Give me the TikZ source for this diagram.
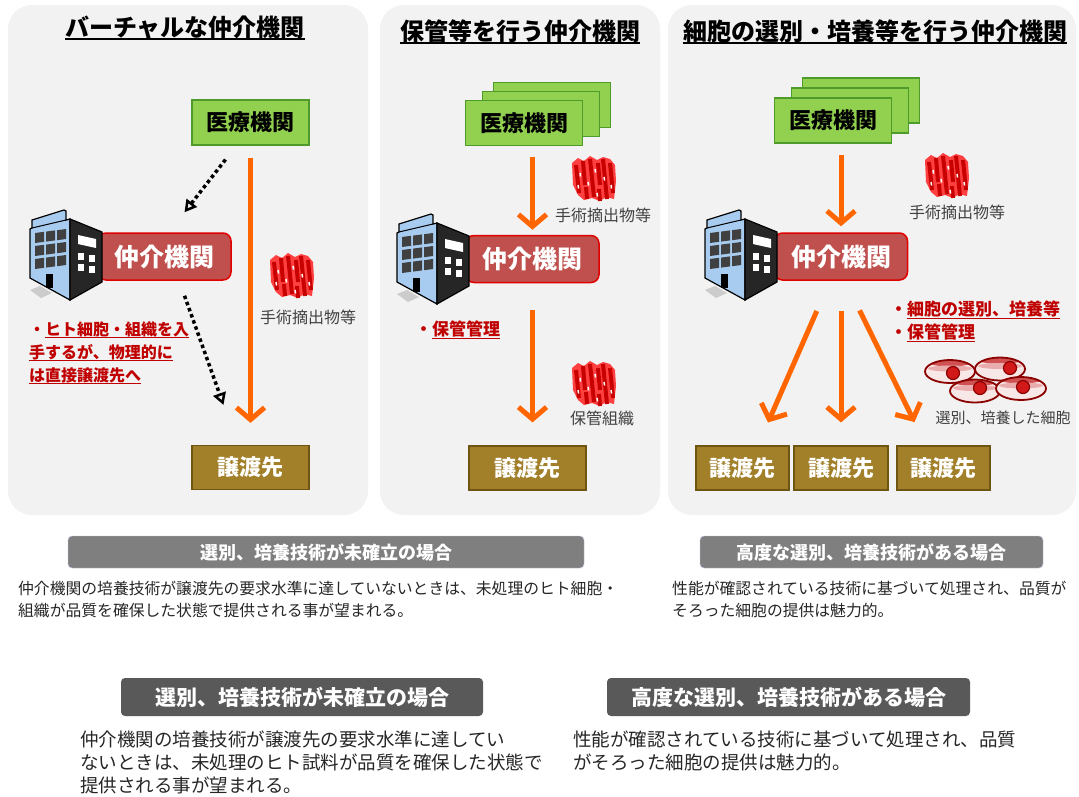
\documentclass[tikz,border=0pt]{standalone}
\usepackage{fontspec}
\setmainfont{Noto Sans CJK JP}
\usetikzlibrary{arrows.meta, shadows}

\definecolor{panelbg}{HTML}{F2F2F2}
\definecolor{medgreen}{HTML}{92D050}
\definecolor{medline}{HTML}{4E9A2A}
\definecolor{brokerred}{HTML}{C0504D}
\definecolor{brokerline}{HTML}{E00000}
\definecolor{recbrown}{HTML}{A2802A}
\definecolor{recline}{HTML}{6E5512}
\definecolor{floworange}{HTML}{FF6600}
\definecolor{notered}{HTML}{C00000}
\definecolor{labelgray}{HTML}{404040}
\definecolor{capgray}{HTML}{7F7F7F}
\definecolor{capline}{HTML}{C5C5E8}
\definecolor{capdark}{HTML}{595959}
\definecolor{glass}{HTML}{A8CCF0}
\definecolor{pane}{HTML}{404040}
\definecolor{sidedark}{HTML}{262626}
\definecolor{tissuedark}{HTML}{C80000}
\definecolor{tissuelight}{HTML}{FF4040}
\definecolor{cellred}{HTML}{C83232}
\definecolor{cellline}{HTML}{8B0000}

\newcommand{\fsz}[2]{\fontsize{#1}{#2}\selectfont}
% underline with its own thickness
\newcommand{\ulbar}[2][1pt]{\setbox0=\hbox{#2}\rlap{\rule[-0.16em]{\wd0}{#1}}\box0}

\begin{document}
\begin{tikzpicture}[x=1pt, y=-1pt,
    panel/.style={fill=panelbg, rounded corners=24pt},
    title/.style={inner sep=0, font=\fsz{24}{28}\bfseries},
    medbox/.style={draw=medline, fill=medgreen, line width=1.2pt, minimum width=117pt, minimum height=45pt, inner sep=0, font=\fsz{22}{24}\bfseries},
    medstack/.style 2 args={
      copy shadow={shadow xshift=28pt, shadow yshift=#2, fill=medgreen, draw=medline, line width=1.2pt},
      copy shadow={shadow xshift=17pt, shadow yshift=#1, fill=medgreen, draw=medline, line width=1.2pt}},
    broker/.style={draw=brokerline, fill=brokerred, line width=1.5pt, rounded corners=8pt, minimum width=133pt, minimum height=47pt, inner sep=0, text=white, font=\fsz{25}{28}\bfseries},
    recbox/.style={draw=recline, fill=recbrown, line width=1.2pt, minimum width=117pt, minimum height=44pt, inner sep=0, text=white, font=\fsz{22}{24}\bfseries},
    lab/.style={inner sep=0, text=labelgray, font=\fsz{16}{18}},
    note/.style={inner sep=0, text=notered, align=left, font=\fsz{16}{23}\bfseries},
    capbox/.style={fill=capgray, draw=capline, rounded corners=4pt, minimum height=32pt, inner sep=0, text=white, font=\fsz{18}{20}\bfseries},
    capboxdk/.style={fill=capdark, rounded corners=4pt, minimum height=38pt, inner sep=0, text=white, font=\fsz{21}{24}\bfseries},
    desc/.style={inner sep=0, align=left, text=black!85, font=\fsz{15.8}{22}},
    flow/.style={draw=floworange, line width=5pt, -{Straight Barb[length=12pt, width=28pt]}},
    hint/.style={draw=black, line width=3.5pt, dash pattern=on 3.5pt off 3pt, -{Triangle[open, length=12pt, width=13pt, line width=2.5pt]}},
    nucleus/.style={draw=cellline, line width=1.2pt, fill=red!80!black!90},
    office/.pic={
      \fill[gray!40] (2,82) -- (12,78) -- (24,85) -- (13,90) -- cycle;
      \draw[line width=1.2pt, fill=glass] (2,21) -- (4,20) -- (4,12) -- (36,2) -- (38,3) -- (38,12) -- (42,11) -- (42,92) -- (2,70) -- cycle;
      \draw[line width=1pt] (4,20) -- (38,12);
      \draw[line width=1.2pt, fill=sidedark] (42,11) -- (74,24) -- (74,74) -- (42,92) -- cycle;
      \foreach \col in {0,1,2}
        \foreach \row in {0,1,2}
          \fill[pane] ({7+11*\col},{25+13*\row-1.4*\col}) -- ++(9,-1.2) -- ++(0,10) -- ++(-9,1.2) -- cycle;
      \fill[black] (18,66) rectangle (25,80);
      \fill[white] (50,27) -- (68,31) -- (68,40) -- (50,36) -- cycle;
      \foreach \px/\py in {50/45, 61/47, 50/56, 61/58}
        \fill[white] (\px,\py) rectangle ++(6,7);
    },
    tissue/.pic={
      \fill[tissuelight] (2,8) -- (8,3) -- (14,6) -- (20,1) -- (27,5) -- (33,2) -- (40,4) -- (45,10) -- (46,26) -- (44,44) -- (36,42) -- (30,46) -- (22,43) -- (14,45) -- (8,40) -- (3,30) -- cycle;
      \foreach \ax/\ay/\bx/\by in {6/10/9/38, 13/6/15/30, 20/4/24/42, 28/8/30/30, 33/4/37/44, 40/8/43/38, 16/32/17/44, 29/34/30/46}
        \draw[tissuedark, line width=4pt] (\ax,\ay) -- (\bx,\by);
      \foreach \ax/\ay in {10/18, 25/14, 18/27, 34/22, 41/30, 27/38, 8/30}
        \draw[white, line width=1.5pt] (\ax,\ay) -- ++(0.6,3.5);
    }]

  %\draw[help lines, step=50] (0,0) grid (1079,796);
  \useasboundingbox (0,0) rectangle (1079,796);
  \fill[white] (0,0) rectangle (1079,796);

  % three panels
  \fill[panel] (8,5) rectangle (368,515);
  \fill[panel] (380,5) rectangle (660,515);
  \fill[panel] (668,5) rectangle (1076,515);

  \node[title] (t1) at (185,28) {\ulbar[2pt]{バーチャルな仲介機関}};
  \node[title] (t2) at (520,32) {\ulbar[2pt]{保管等を行う仲介機関}};
  \node[title] (t3) at (875,32) {\ulbar[2pt]{細胞の選別・培養等を行う仲介機関}};

  % virtual broker
  \node[medbox] (med1) at (250.5,122.5) {医療機関};
  \node[broker] (broker1) at (164.5,256.5) {仲介機関};
  \pic at (28,208) {office};
  \node[recbox] (rec1) at (250.5,467.5) {譲渡先};
  \pic at (268,252) {tissue};
  \node[lab] (tis1) at (308,317) {手術摘出物等};
  \node[note, anchor=north west] (note1) at (29,322) {・\ulbar{ヒト細胞・組織を入}\\\ulbar{手するが、物理的に}\\\ulbar{は直接譲渡先へ}};

  \draw[flow, shorten <=12pt, shorten >=22pt] (med1.south) -- (rec1.north);
  \draw[hint] ([xshift=-25pt, yshift=-14pt]med1.south) -- ([xshift=20pt, yshift=20pt]broker1.north);
  \draw[hint] ([xshift=20pt, yshift=-15pt]broker1.south) -- ([xshift=-27pt, yshift=40pt]rec1.north);

  % broker with storage
  \node[medbox, medstack={9pt}{18pt}] (med2) at (524,123) {医療機関};
  \node[broker] (broker2) at (532.5,259) {仲介機関};
  \pic at (395,212) {office};
  \node[recbox] (rec2) at (527.5,468) {譲渡先};
  \pic at (570,155) {tissue};
  \node[lab] (tis2) at (603,215) {手術摘出物等};
  \pic at (570,360) {tissue};
  \node[lab] (kept2) at (602,418) {保管組織};
  \node[note, font=\fsz{17}{23}\bfseries, anchor=west] (note2) at (415,330) {・\ulbar{保管管理}};

  \draw[flow, shorten <=11pt, shorten >=5pt] (med2.south -| broker2.north) -- (broker2.north);
  \draw[flow, shorten <=27pt, shorten >=23pt] (broker2.south) -- (broker2.south |- rec2.north);

  % broker with selection and culture
  \node[medbox, medstack={10pt}{20pt}] (med3) at (833,120.5) {医療機関};
  \node[broker] (broker3) at (841,256.5) {仲介機関};
  \pic at (703,208) {office};
  \node[recbox, minimum width=93pt] (rec3a) at (742.5,468) {譲渡先};
  \node[recbox, minimum width=94pt] (rec3b) at (841,468) {譲渡先};
  \node[recbox, minimum width=93pt] (rec3c) at (943.5,468) {譲渡先};
  \pic at (923,152) {tissue};
  \node[lab] (tis3) at (957,212) {手術摘出物等};
  \node[note, font=\fsz{17}{23}\bfseries, anchor=north west] (note3) at (890,301) {・\ulbar{細胞の選別、培養等}\\・\ulbar{保管管理}};

  % cultured cells: pale body, red upper rim, nucleus
  \foreach \cx/\cy/\nx/\ny in {950/371.5/953/373, 1000/369/1010/368, 975/391/980/388, 1021/388.5/1023/387} {
    \begin{scope}
      \clip (\cx,\cy) ellipse [x radius=25, y radius=11.5];
      \fill[white!88!cellred] (\cx,\cy) ellipse [x radius=25, y radius=11.5];
      \fill[cellred!85] (\cx,\cy-14) ellipse [x radius=30, y radius=9];
      \fill[white!60!cellred] (\cx,\cy-3) ellipse [x radius=22, y radius=3];
    \end{scope}
    \draw[draw=cellline, line width=1.8pt] (\cx,\cy) ellipse [x radius=25, y radius=11.5];
    \draw[nucleus] (\nx,\ny) circle [radius=6.5];
  }
  \node[lab, font=\fsz{15}{18}] (cells3) at (1003,418) {選別、培養した細胞};

  \draw[flow, shorten <=11pt, shorten >=6pt] (med3.south -| broker3.north) -- (broker3.north);
  \draw[flow, shorten <=33pt, shorten >=25pt] ([xshift=-11pt]broker3.south) -- ([xshift=15.5pt]rec3a.north);
  \draw[flow, shorten <=30pt, shorten >=23pt] (broker3.south) -- (broker3.south |- rec3b.north);
  \draw[flow, shorten <=33pt, shorten >=26pt] ([xshift=4pt]broker3.south) -- ([xshift=-17.5pt]rec3c.north);

  % captions and remarks
  \node[capbox, minimum width=516pt] (capA) at (326,552) {選別、培養技術が未確立の場合};
  \node[capbox, minimum width=343pt] (capB) at (871.5,552) {高度な選別、培養技術がある場合};
  \node[desc, anchor=north west] (descA) at (18,581) {仲介機関の培養技術が譲渡先の要求水準に達していないときは、未処理のヒト細胞・\\組織が品質を確保した状態で提供される事が望まれる。};
  \node[desc, anchor=north west] (descB) at (672,581) {性能が確認されている技術に基づいて処理され、品質が\\そろった細胞の提供は魅力的。};

  \node[capboxdk, minimum width=362pt] (capC) at (302,697) {選別、培養技術が未確立の場合};
  \node[capboxdk, minimum width=363pt] (capD) at (788.5,697) {高度な選別、培養技術がある場合};
  \node[desc, font=\fsz{18.5}{23}, anchor=north west] (descC) at (80,731) {仲介機関の培養技術が譲渡先の要求水準に達してい\\ないときは、未処理のヒト試料が品質を確保した状態で\\提供される事が望まれる。};
  \node[desc, font=\fsz{18.5}{23}, anchor=north west] (descD) at (573,731) {性能が確認されている技術に基づいて処理され、品質\\がそろった細胞の提供は魅力的。};

\end{tikzpicture}
\end{document}
